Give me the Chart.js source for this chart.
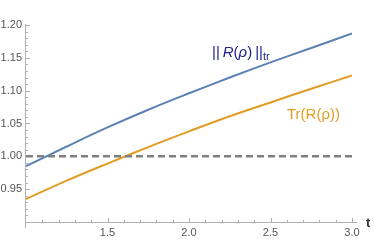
<!DOCTYPE html>
<html lang="en">
<head>
<meta charset="UTF-8">
<title>Trace norm vs trace</title>
<style>
  html, body { margin: 0; padding: 0; background: #fff; }
  .container { width: 374px; height: 241px; position: relative; }
</style>
<script src="https://cdn.jsdelivr.net/npm/chart.js@4.4.1/dist/chart.umd.min.js"></script>
</head>
<body>
<div class="container"><canvas id="myChart"></canvas></div>
<script>
// values
const tValues = [1, 1.25, 1.5, 1.75, 2, 2.25, 2.5, 2.75, 3];
const normValues = [0.985, 1.015, 1.044, 1.071, 1.096, 1.120, 1.143, 1.165, 1.187];
const traceValues = [0.935, 0.963, 0.989, 1.014, 1.038, 1.061, 1.082, 1.103, 1.123];
const refT = [1, 3];
const refValues = [1, 1];
const xTickLabels = ['1.5', '2.0', '2.5', '3.0'];
const yTickLabels = ['0.95', '1.00', '1.05', '1.10', '1.15', '1.20'];

const BLUE = '#5e81b5';
const ORANGE = '#e19c24';
const FONT = '"Liberation Sans", Arial, sans-serif';

const toPoints = (xs, ys) => xs.map((x, i) => ({ x: x, y: ys[i] }));

// Mathematica-like axes: ticks pointing inward, minor ticks, axis label "t"
const axesPlugin = {
  id: 'mmaAxes',
  beforeDatasetsDraw(chart) {
    const { ctx, chartArea, scales } = chart;
    const xs = scales.x, ys = scales.y;
    const x0 = xs.getPixelForValue(1);
    const y0 = ys.getPixelForValue(0.9);
    ctx.save();
    ctx.strokeStyle = '#b0b0b0';
    ctx.lineWidth = 1;
    ctx.beginPath();
    ctx.moveTo(x0 - 0.5, y0 + 0.5);
    ctx.lineTo(chartArea.right + 5, y0 + 0.5);
    ctx.moveTo(x0 - 0.5, chartArea.top - 1);
    ctx.lineTo(x0 - 0.5, y0 + 6);
    // y ticks
    for (let k = 91; k <= 120; k++) {
      const py = Math.round(ys.getPixelForValue(k / 100)) + 0.5;
      const len = k % 5 === 0 ? 4 : 2;
      ctx.moveTo(x0, py);
      ctx.lineTo(x0 + len, py);
    }
    // x ticks
    for (let k = 11; k <= 30; k++) {
      const px = Math.round(xs.getPixelForValue(k / 10)) + 0.5;
      const len = k % 5 === 0 ? 4 : 2;
      ctx.moveTo(px, y0);
      ctx.lineTo(px, y0 - len);
    }
    ctx.stroke();

    ctx.fillStyle = '#333';
    ctx.font = 'bold 13px ' + FONT;
    ctx.textBaseline = 'alphabetic';
    ctx.fillText('t', chartArea.right + 14, y0 + 5);
    ctx.restore();
  },
  afterDatasetsDraw(chart) {
    const { ctx, scales } = chart;
    const xs = scales.x, ys = scales.y;
    ctx.save();
    ctx.textBaseline = 'alphabetic';

    // ||R(rho)||_tr
    let px = xs.getPixelForValue(2.141);
    const py = ys.getPixelForValue(1.1515);
    const parts = [
      ['||\u2009', 'normal', 15, 0],
      ['R', 'italic', 15, 0],
      ['(', 'normal', 15, 0],
      ['\u03c1', 'italic', 15, 0],
      [')\u2009', 'normal', 15, 0],
      ['||', 'normal', 15, 0],
      ['tr', 'normal', 11, 3]
    ];
    ctx.fillStyle = '#23238e';
    parts.forEach(([txt, style, size, dy]) => {
      ctx.font = style + ' ' + size + 'px ' + FONT;
      ctx.fillText(txt, px, py + dy);
      px += ctx.measureText(txt).width;
    });

    // Tr(R(rho))
    ctx.fillStyle = ORANGE;
    ctx.font = '15px ' + FONT;
    ctx.fillText('Tr(R(\u03c1))', xs.getPixelForValue(2.601), ys.getPixelForValue(1.0576));
    ctx.restore();
  }
};

const ctx = document.getElementById('myChart').getContext('2d');

new Chart(ctx, {
  type: 'scatter',
  data: {
    datasets: [
      {
        data: toPoints(refT, refValues),
        showLine: true,
        borderColor: '#808080',
        borderWidth: 2.5,
        borderDash: [7, 4],
        pointRadius: 0
      },
      {
        data: toPoints(tValues, traceValues),
        showLine: true,
        borderColor: ORANGE,
        borderWidth: 2,
        tension: 0.4,
        pointRadius: 0
      },
      {
        data: toPoints(tValues, normValues),
        showLine: true,
        borderColor: BLUE,
        borderWidth: 2,
        tension: 0.4,
        pointRadius: 0
      }
    ]
  },
  options: {
    responsive: true,
    maintainAspectRatio: false,
    animation: false,
    layout: { padding: { top: 25, right: 22, bottom: 0, left: 0 } },
    plugins: {
      legend: { display: false },
      tooltip: { enabled: false }
    },
    scales: {
      x: {
        type: 'linear',
        min: 1,
        max: 3,
        grid: { display: false, drawTicks: false },
        border: { display: false },
        afterFit: (scale) => { scale.height = 19; },
        ticks: {
          stepSize: 0.5,
          padding: 4,
          maxRotation: 0,
          color: '#555',
          font: { family: FONT, size: 11 },
          callback: (v) => {
            const s = Number(v).toFixed(1);
            return xTickLabels.includes(s) ? s : '';
          }
        }
      },
      y: {
        type: 'linear',
        min: 0.9,
        max: 1.2,
        grid: { display: false, drawTicks: false },
        border: { display: false },
        afterFit: (scale) => { scale.width = 26; },
        ticks: {
          stepSize: 0.05,
          padding: 4,
          color: '#555',
          font: { family: FONT, size: 11 },
          callback: (v) => {
            const s = Number(v).toFixed(2);
            return yTickLabels.includes(s) ? s : '';
          }
        }
      }
    }
  },
  plugins: [axesPlugin]
});
</script>
</body>
</html>
